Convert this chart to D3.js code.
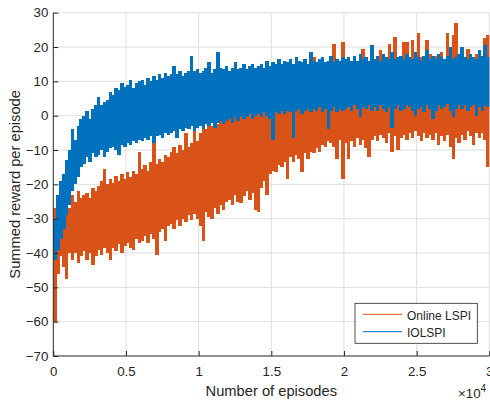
<!DOCTYPE html>
<html>
<head>
<meta charset="utf-8">
<script src="https://cdn.jsdelivr.net/npm/d3@7"></script>
<style>
  html, body { margin: 0; padding: 0; background: #fff; }
  svg { display: block; }
  text { font-family: "Liberation Sans", Arial, Helvetica, sans-serif; fill: #262626; }
</style>
</head>
<body>
<svg id="chart" width="490" height="401"></svg>
<script>
// Episodes are grouped in bins of 200; each bin keeps the lowest and highest summed reward.
const binSize = 200;
const maxEpisode = 30000;

const xTicks = [0, 5000, 10000, 15000, 20000, 25000, 30000];
const xTickLabels = ["0", "0.5", "1", "1.5", "2", "2.5", "3"];
const yTicks = [-70, -60, -50, -40, -30, -20, -10, 0, 10, 20, 30];
const seriesNames = ["Online LSPI", "IOLSPI"];
const seriesColors = ["#D95319", "#0072BD"];

// Online LSPI: per-bin minimum and maximum
const lspiLow = [
  -60, -46, -41, -44, -47.5, -40, -42, -40, -43, -41,
  -39.5, -42, -40, -43.5, -41, -39, -40.5, -38.5, -40, -42,
  -38.5, -39.5, -37.5, -40, -38, -37, -38.5, -39, -36, -37,
  -36.5, -35, -37, -34.5, -36, -40.5, -34, -33, -36.5, -32,
  -31.5, -33, -30.5, -32, -30, -31, -29, -30.5, -28.5, -30,
  -32, -36.5, -28, -29.5, -30, -27, -28.5, -26, -27.5, -25,
  -24.5, -26, -23, -25, -25.5, -23.5, -22, -24.5, -22.5, -27.5,
  -28, -21, -19, -23, -17, -16, -16.5, -14.5, -15, -13.5,
  -18.5, -12, -13.5, -11.5, -12.5, -16.5, -11, -12.5, -10.5, -11,
  -9.5, -10.5, -8.5, -9, -7.5, -8, -9, -12.5, -7, -18.5,
  -8, -12.5, -7.5, -9, -6.5, -8.5, -7, -9.5, -12, -7,
  -6, -7.5, -5.5, -6.5, -8, -5, -10.5, -6, -10, -6.5,
  -5.5, -7, -5, -6.5, -4.5, -6, -7.5, -5, -6.5, -5.5,
  -7, -5, -8.5, -6, -7.5, -5.5, -9, -12.5, -6.5, -8,
  -5.5, -7, -4.5, -6, -8.5, -5, -6.5, -5, -7, -15
];
const lspiHigh = [
  -27, -26, -28, -25, -24, -27, -23, -25, -22, -24,
  -23, -22.5, -24, -21, -22, -20.5, -19, -15.5, -20, -18.5,
  -19.5, -17.5, -19, -17, -18.5, -16.5, -18, -16, -17, -10.5,
  -15.5, -14.5, -16, -13.5, -6.5, -14, -12.5, -13.5, -11.5, -12,
  -10.5, -9, -11, -8.5, -10, -5, -9, -8, -4.5, -7.5,
  -5, -3.5, -4, -2, -3, -1.5, -2.5, 0, -1, 1,
  0, 1.5, -0.5, 2, 1, 3, 0.5, 2.5, 1.5, 3.5,
  2, 4, 3, 5, 3.5, 5.5, 4, 6, 4.5, 7,
  5.5, 7.5, 6, 8, 16, 8, 6.5, 9, 8.5, 17,
  9, 10.5, 8.5, 11, 9.5, 12, 21, 10.5, 12.5, 21.5,
  15, 13.5, 16, 14, 15.5, 13, 19.5, 14.5, 16, 15,
  14, 16.5, 19, 15, 16, 21, 15.5, 23, 16, 17,
  21.5, 21.5, 16, 22, 15.5, 24, 17, 16.5, 22, 18,
  16, 17.5, 15, 18.5, 16.5, 24, 17, 23.5, 27, 16.5,
  18, 16, 19.5, 17, 15.5, 18, 17, 16.5, 22.5, 23.5
];

// IOLSPI: per-bin minimum and maximum
const iolspiLow = [
  -42, -39, -36, -33, -29, -26, -22, -20, -18, -15,
  -14, -12, -13.5, -11, -12, -11.5, -10, -12, -10.5, -9.5,
  -9, -10, -11.5, -8.5, -9, -8, -8.5, -7.5, -8, -7,
  -7.5, -6.5, -7, -6, -8, -6, -5.5, -6.5, -5, -5.5,
  -5, -4.5, -6.5, -4, -4.5, -3.5, -4, -3, -4.5, -3.5,
  -3, -4, -2.5, -3, -2, -3.5, -2, -1.5, -2.5, -1.5,
  -1, -2, -0.5, -1.5, 0, -1, -0.5, 0.5, -1, 0,
  0.5, -0.5, 1, 0, -1, -7, 1, 0.5, 1.5, 0.5,
  1.5, 1, -6.5, 1.5, 2, 0.5, 1.5, 2, 1, 2,
  1.5, 2.5, 1, 2, -4, 1.5, 2.5, 1, 2, 1.5,
  2, 2.5, 1.5, 3, 2, -0.5, 2.5, 2, 3, 1.5,
  2.5, 1.5, 3, 2, 1, 2.5, -3.5, 2, 3, 1.5,
  2, 3, 2.5, 1.5, 0, 2, 2.5, 1, 3, 2,
  -1, 1.5, 3, 2, 2.5, 3.5, 1.5, -0.5, 2, 3,
  2, 3, 1.5, 2.5, 3, 0, 2.5, 1.5, 3, 2.5
];
const iolspiHigh = [
  -30, -23, -19, -17, -13, -10, -4, -7, -3, -1,
  0, 1.5, -1, 2, 3, 5.5, 3, 4, 4.5, 7,
  6, 8, 7.5, 9.5, 8.5, 9, 10.5, 8, 9.5, 10,
  10.5, 9, 11, 10, 11.5, 10.5, 12, 11, 12.5, 11.5,
  12, 14.5, 12, 13, 11.5, 12.5, 13, 17.5, 13, 13.5,
  12.5, 13, 14, 15.5, 12.5, 13.5, 18.5, 14, 13.5, 14.5,
  13, 14, 15.5, 13.5, 14, 15, 13.5, 14.5, 15, 14,
  14.5, 15, 14, 16, 14.5, 15.5, 15, 16.5, 15, 16,
  15.5, 16.5, 15, 17, 16, 15.5, 16.5, 15, 18.5, 16,
  15.5, 16.5, 17, 15.5, 16, 17.5, 15.5, 16.5, 16, 17,
  16.5, 17, 16, 17.5, 16, 18, 16.5, 17, 16, 20.5,
  16.5, 17.5, 16, 18, 17, 16.5, 18.5, 16.5, 17, 17.5,
  16.5, 18, 17, 16.5, 18.5, 17, 16, 17.5, 19, 16.5,
  17.5, 16.5, 18, 17, 16.5, 17.5, 20, 16.5, 17, 18,
  20, 17, 16.5, 18, 17, 16.5, 19, 17.5, 20.5, 17
];

const svg = d3.select("#chart");
const plot = { left: 53.3, right: 489.3, top: 12.7, bottom: 356 };

const x = d3.scaleLinear().domain([0, maxEpisode]).range([plot.left, plot.right]);
const y = d3.scaleLinear().domain([-70, 30]).range([plot.bottom, plot.top]);

const ink = "#262626";

// grid
const grid = svg.append("g").attr("stroke", "#dedede").attr("stroke-width", 1);
grid.selectAll("line.v").data(xTicks.slice(1)).join("line")
  .attr("x1", d => x(d)).attr("x2", d => x(d))
  .attr("y1", plot.top).attr("y2", plot.bottom);
grid.selectAll("line.h").data(yTicks.slice(1)).join("line")
  .attr("x1", plot.left).attr("x2", plot.right)
  .attr("y1", d => y(d)).attr("y2", d => y(d));

// clip for the reward traces
svg.append("defs").append("clipPath").attr("id", "plotClip")
  .append("rect")
  .attr("x", plot.left).attr("y", plot.top)
  .attr("width", plot.right - plot.left).attr("height", plot.bottom - plot.top);

// each bin is drawn as the vertical sweep of the trace between its minimum and maximum
function bins(lows, highs) {
  return lows.map((lo, i) => ({ start: i * binSize, lo, hi: highs[i] }));
}

const seam = 0.6; // slight overlap so neighbouring sweeps join without hairline gaps
const dataLayer = svg.append("g").attr("clip-path", "url(#plotClip)");
[bins(lspiLow, lspiHigh), bins(iolspiLow, iolspiHigh)].forEach((series, i) => {
  dataLayer.append("g")
    .attr("fill", seriesColors[i])
    .attr("shape-rendering", "crispEdges")
    .selectAll("rect")
    .data(series)
    .join("rect")
    .attr("x", d => x(d.start))
    .attr("width", d => x(d.start + binSize) - x(d.start) + seam)
    .attr("y", d => y(d.hi))
    .attr("height", d => y(d.lo) - y(d.hi));
});

// axes
const yAxis = d3.axisLeft(y).tickValues(yTicks).tickSize(-5).tickPadding(5).tickFormat(d3.format("d"));
const gy = svg.append("g").attr("transform", `translate(${plot.left},0)`).call(yAxis);
const xAxis = d3.axisBottom(x).tickValues(xTicks).tickSize(-5).tickPadding(10.5)
  .tickFormat((d, i) => xTickLabels[i]);
const gx = svg.append("g").attr("transform", `translate(0,${plot.bottom})`).call(xAxis);

[gx, gy].forEach(g => {
  g.select(".domain").attr("stroke", ink).attr("stroke-width", 1);
  g.selectAll(".tick line").attr("stroke", ink);
  g.selectAll(".tick text").attr("fill", ink).style("font-size", "13.3px");
  g.attr("font-family", null).attr("font-size", null);
});
gy.select(".domain").attr("d", `M0,${plot.top}V${plot.bottom}`);
gx.select(".domain").attr("d", `M${plot.left},0H${plot.right}`);

// axis titles
svg.append("text")
  .attr("x", (plot.left + plot.right) / 2).attr("y", 396)
  .attr("text-anchor", "middle").style("font-size", "14.7px")
  .text("Number of episodes");

svg.append("text")
  .attr("transform", `translate(20,${(plot.top + plot.bottom) / 2}) rotate(-90)`)
  .attr("text-anchor", "middle").style("font-size", "14.7px")
  .text("Summed reward per episode");

// exponent
const expo = svg.append("text").attr("x", 458).attr("y", 397.5).style("font-size", "13.3px");
expo.append("tspan").text("\u00d710");
expo.append("tspan").attr("dy", -6).style("font-size", "10px").text("4");

// legend
const legend = svg.append("g");
legend.append("rect")
  .attr("x", 355).attr("y", 303.3).attr("width", 122.3).attr("height", 40)
  .attr("fill", "#fff").attr("stroke", ink).attr("stroke-width", 0.8);
const legendRows = [314.3, 331.7];
seriesNames.forEach((name, i) => {
  legend.append("line")
    .attr("x1", 363).attr("x2", 402)
    .attr("y1", legendRows[i]).attr("y2", legendRows[i])
    .attr("stroke", seriesColors[i]).attr("stroke-width", 1);
  legend.append("text")
    .attr("x", 407).attr("y", legendRows[i] + 5.5)
    .style("font-size", "12px")
    .text(name);
});
</script>
</body>
</html>
